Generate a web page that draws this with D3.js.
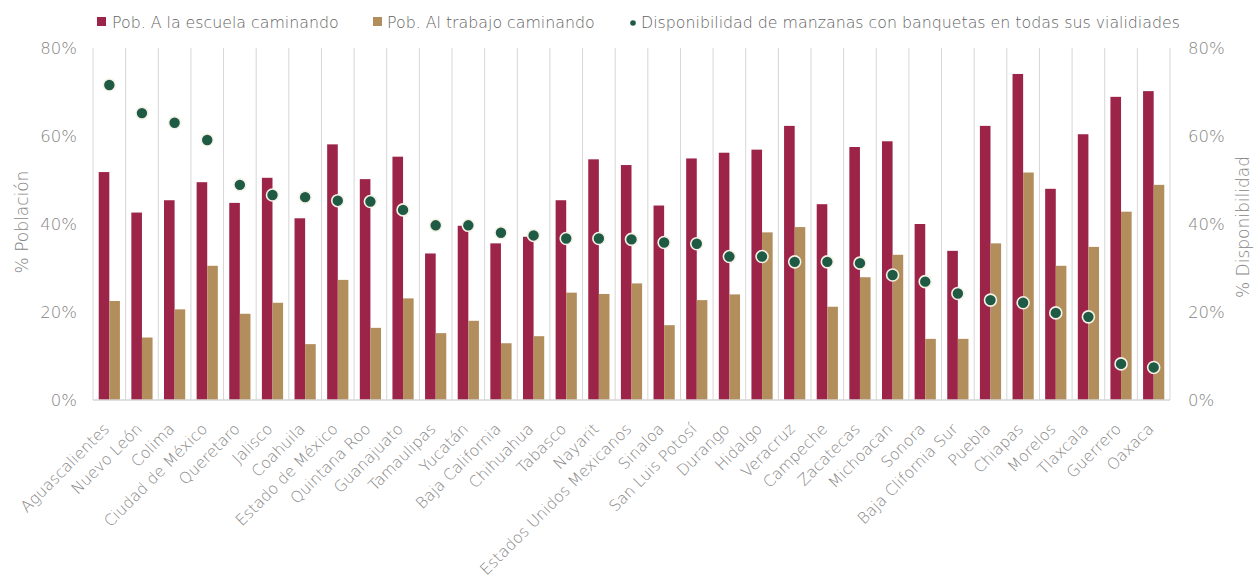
<!DOCTYPE html>
<html>
<head>
<meta charset="utf-8">
<script src="https://cdn.jsdelivr.net/npm/d3@7"></script>
<style>
  html, body { margin: 0; padding: 0; background: #ffffff; }
  svg { display: block; }
  text { font-family: "DejaVu Sans", "Open Sans", sans-serif; font-weight: 300; }
</style>
</head>
<body>
<svg id="chart" width="1257" height="581"></svg>
<script>
// Entidades federativas, ordered by sidewalk availability
const categories = [
  "Aguascalientes", "Nuevo León", "Colima", "Ciudad de México", "Queretaro",
  "Jalisco", "Coahuila", "Estado de México", "Quintana Roo", "Guanajuato",
  "Tamaulipas", "Yucatán", "Baja California", "Chihuahua", "Tabasco",
  "Nayarit", "Estados Unidos Mexicanos", "Sinaloa", "San Luis Potosí", "Durango",
  "Hidalgo", "Veracruz", "Campeche", "Zacatecas", "Michoacan",
  "Sonora", "Baja Clifornia Sur", "Puebla", "Chiapas", "Morelos",
  "Tlaxcala", "Guerrero", "Oaxaca"
];

// % población que va a la escuela caminando
const escuela = [
  51.8, 42.6, 45.4, 49.5, 44.8, 50.5, 41.3, 58.1, 50.2, 55.3,
  33.3, 39.6, 35.6, 37.1, 45.4, 54.7, 53.4, 44.2, 54.9, 56.2,
  56.9, 62.3, 44.5, 57.5, 58.8, 40.0, 33.9, 62.3, 74.1, 48.0,
  60.4, 68.9, 70.2
];

// % población que va al trabajo caminando
const trabajo = [
  22.5, 14.2, 20.6, 30.5, 19.6, 22.1, 12.7, 27.3, 16.4, 23.1,
  15.2, 18.0, 12.9, 14.5, 24.4, 24.1, 26.5, 17.0, 22.7, 24.0,
  38.1, 39.3, 21.2, 27.9, 33.0, 13.9, 13.9, 35.6, 51.7, 30.5,
  34.8, 42.8, 48.9
];

// % de manzanas con banquetas en todas sus vialidades
const disponibilidad = [
  71.6, 65.2, 63.0, 59.1, 48.9, 46.6, 46.1, 45.3, 45.1, 43.2,
  39.7, 39.7, 38.0, 37.4, 36.7, 36.7, 36.5, 35.8, 35.5, 32.6,
  32.6, 31.4, 31.4, 31.1, 28.4, 26.9, 24.2, 22.7, 22.1, 19.8,
  18.9, 8.2, 7.4
];

const yTicks = [0, 20, 40, 60, 80];
const seriesNames = [
  "Pob. A la escuela caminando",
  "Pob. Al trabajo caminando",
  "Disponibilidad de manzanas con banquetas en todas sus vialidiades"
];

const RED = "#9d2449", TAN = "#b38e5d", GREEN = "#1f5a45";
const GRID = "#d6d6d6", AXIS_TEXT = "#858585", LEGEND_TEXT = "#636363";

const svg = d3.select("#chart");
const plot = { left: 93, right: 1170, top: 48, bottom: 400 };

const x = d3.scaleBand().domain(categories).range([plot.left, plot.right]).padding(0);
const bw = x.bandwidth();
const xs = d3.scaleBand().domain(["escuela", "trabajo"])
  .range([bw / 2 - bw * 0.325, bw / 2 + bw * 0.325]).padding(0);

const yL = d3.scaleLinear().domain([0, 80]).range([plot.bottom, plot.top]);
const yR = d3.scaleLinear().domain([0, 80]).range([plot.bottom, plot.top]);

// vertical separators between categories
const seps = categories.map(c => x(c)).concat([plot.right]);
svg.append("g").selectAll("line").data(seps).join("line")
  .attr("x1", d => d).attr("x2", d => d)
  .attr("y1", plot.top).attr("y2", plot.bottom)
  .attr("stroke", GRID).attr("stroke-width", 1);

// bars
const rows = categories.map((c, i) => ({ c, escuela: escuela[i], trabajo: trabajo[i], disp: disponibilidad[i] }));
const groups = svg.append("g").selectAll("g").data(rows).join("g")
  .attr("transform", d => `translate(${x(d.c)},0)`);

groups.append("rect")
  .attr("x", xs("escuela")).attr("width", xs.bandwidth())
  .attr("y", d => yL(d.escuela)).attr("height", d => yL(0) - yL(d.escuela))
  .attr("fill", RED);

groups.append("rect")
  .attr("x", xs("trabajo")).attr("width", xs.bandwidth())
  .attr("y", d => yL(d.trabajo)).attr("height", d => yL(0) - yL(d.trabajo))
  .attr("fill", TAN);

// baseline
svg.append("line")
  .attr("x1", plot.left).attr("x2", plot.right)
  .attr("y1", plot.bottom).attr("y2", plot.bottom)
  .attr("stroke", GRID).attr("stroke-width", 1.5);

// availability markers on the secondary axis
svg.append("g").selectAll("circle").data(rows).join("circle")
  .attr("cx", d => x(d.c) + bw / 2)
  .attr("cy", d => yR(d.disp))
  .attr("r", 6)
  .attr("fill", GREEN)
  .attr("stroke", "#f4f1e6").attr("stroke-width", 1.6);

// left axis
const leftAxis = svg.append("g")
  .attr("transform", `translate(${plot.left - 16},0)`)
  .call(d3.axisLeft(yL).tickValues(yTicks).tickFormat(d => d + "%").tickSize(0).tickPadding(0));
leftAxis.select(".domain").remove();
leftAxis.selectAll("text").attr("fill", AXIS_TEXT).style("font-size", "16.5px").attr("dy", "0.36em");

// right axis
const rightAxis = svg.append("g")
  .attr("transform", `translate(${plot.right + 18},0)`)
  .call(d3.axisRight(yR).tickValues(yTicks).tickFormat(d => d + "%").tickSize(0).tickPadding(0));
rightAxis.select(".domain").remove();
rightAxis.selectAll("text").attr("fill", AXIS_TEXT).style("font-size", "16.5px").attr("dy", "0.36em");

// axis titles
svg.append("text")
  .attr("transform", `translate(28,222) rotate(-90)`)
  .attr("text-anchor", "middle").attr("fill", AXIS_TEXT).style("font-size", "17px")
  .text("% Población");
svg.append("text")
  .attr("transform", `translate(1249,227) rotate(-90)`)
  .attr("text-anchor", "middle").attr("fill", AXIS_TEXT).style("font-size", "17px")
  .text("% Disponibilidad");

// category labels
svg.append("g").selectAll("text").data(categories).join("text")
  .attr("transform", c => `translate(${x(c) + bw / 2 + 1},${plot.bottom + 30}) rotate(-45)`)
  .attr("text-anchor", "end")
  .attr("fill", AXIS_TEXT).style("font-size", "15.6px")
  .text(c => c);

// legend
const legendY = 22;
const lg = svg.append("g");
lg.append("rect").attr("x", 97).attr("y", legendY - 5).attr("width", 9).attr("height", 9).attr("fill", RED);
lg.append("text").attr("x", 112).attr("y", legendY).attr("dy", "0.35em")
  .attr("fill", LEGEND_TEXT).style("font-size", "15.8px").text(seriesNames[0]);
lg.append("rect").attr("x", 373).attr("y", legendY - 5).attr("width", 9).attr("height", 9).attr("fill", TAN);
lg.append("text").attr("x", 387).attr("y", legendY).attr("dy", "0.35em")
  .attr("fill", LEGEND_TEXT).style("font-size", "15.8px").text(seriesNames[1]);
lg.append("circle").attr("cx", 633).attr("cy", legendY + 1).attr("r", 2.8).attr("fill", GREEN);
lg.append("text").attr("x", 641).attr("y", legendY).attr("dy", "0.35em")
  .attr("fill", LEGEND_TEXT).style("font-size", "15.8px").text(seriesNames[2]);
</script>
</body>
</html>
